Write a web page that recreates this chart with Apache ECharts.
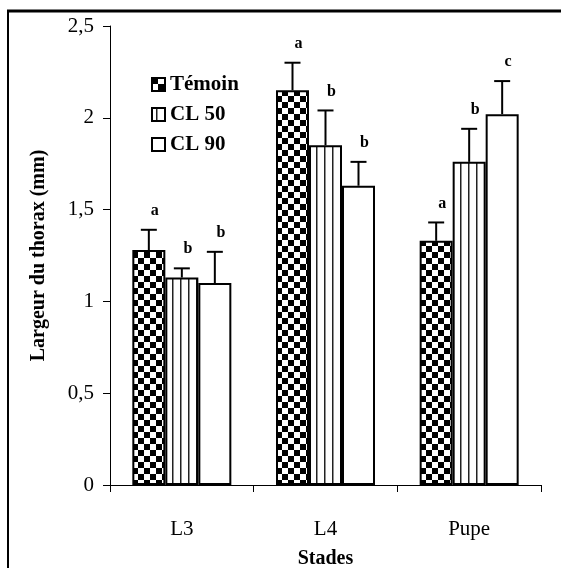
<!DOCTYPE html>
<html><head><meta charset="utf-8">
<script src="https://cdn.jsdelivr.net/npm/echarts@6/dist/echarts.min.js"></script>
<style>html,body{margin:0;padding:0;background:#fff}#c{width:561px;height:568px}</style>
</head><body><div id="c"></div>
<script>
// ---- data ----
const categories = ['L3', 'L4', 'Pupe'];
const seriesNames = ['Témoin', 'CL 50', 'CL 90'];
const temoin = [1.28, 2.15, 1.33];
const cl50 = [1.13, 1.85, 1.76];
const cl90 = [1.10, 1.63, 2.02];
const temoinErr = [0.11, 0.15, 0.10];
const cl50Err = [0.05, 0.19, 0.18];
const cl90Err = [0.17, 0.13, 0.18];
const temoinLetters = ['a', 'a', 'a'];
const cl50Letters = ['b', 'b', 'b'];
const cl90Letters = ['b', 'b', 'c'];
const yMin = 0, yMax = 2.5, yStep = 0.5;
const xTitle = 'Stades';
const yTitle = 'Largeur du thorax (mm)';

// ---- styling ----
const FONT = '"Liberation Serif", "Times New Roman", serif';
const BAR_W = 33;

function checker(s) {
  const c = document.createElement('canvas');
  c.width = c.height = 2 * s;
  const g = c.getContext('2d');
  g.fillStyle = '#fff'; g.fillRect(0, 0, 2 * s, 2 * s);
  g.fillStyle = '#000'; g.fillRect(0, 0, s, s); g.fillRect(s, s, s, s);
  return c;
}
function stripes(p) {
  const c = document.createElement('canvas');
  c.width = p; c.height = 4;
  const g = c.getContext('2d');
  g.fillStyle = '#fff'; g.fillRect(0, 0, p, 4);
  g.fillStyle = '#222'; g.fillRect(Math.floor(p / 2), 0, 1.5, 4);
  return c;
}
const fills = [
  { image: checker(6), repeat: 'repeat' },
  { image: stripes(8), repeat: 'repeat' },
  '#fff'
];
const values = [temoin, cl50, cl90];
const errs = [temoinErr, cl50Err, cl90Err];
const letters = [temoinLetters, cl50Letters, cl90Letters];

const series = [];
values.forEach((vals, idx) => {
  series.push({
    name: seriesNames[idx], type: 'bar', data: vals,
    barWidth: BAR_W, barGap: '0%',
    itemStyle: { color: fills[idx], borderColor: '#000', borderWidth: 2 }
  });
});
values.forEach((vals, idx) => {
  series.push({
    name: 'err' + idx, type: 'custom', silent: true, z: 10,
    data: vals.map((v, i) => [i, v, +(v + errs[idx][i]).toFixed(3)]),
    encode: { x: 0, y: [1, 2] },
    renderItem: (params, api) => {
      const base = api.coord([api.value(0), api.value(1)]);
      const top = api.coord([api.value(0), api.value(2)]);
      const x = base[0] + (idx - 1) * BAR_W;
      return {
        type: 'group', children: [
          { type: 'line', shape: { x1: x, y1: base[1], x2: x, y2: top[1] }, style: { stroke: '#000', lineWidth: 2 } },
          { type: 'line', shape: { x1: x - 8, y1: top[1], x2: x + 8, y2: top[1] }, style: { stroke: '#000', lineWidth: 2 } },
          { type: 'text', x: x + 6, y: top[1] - 19,
            style: { text: letters[idx][params.dataIndex], font: 'bold 16px ' + FONT,
                     textAlign: 'center', textVerticalAlign: 'middle', fill: '#000' } }
        ]
      };
    }
  });
});

const chart = echarts.init(document.getElementById('c'), null, { renderer: 'canvas' });
chart.setOption({
  animation: false,
  backgroundColor: '#fff',
  grid: { left: 110, right: 20, top: 26, bottom: 83, containLabel: false, outerBoundsMode: 'none' },
  legend: {
    data: seriesNames.map(n => ({ name: n, icon: 'rect' })),
    orient: 'vertical', left: 146, top: 69,
    itemWidth: 13, itemHeight: 13, itemGap: 9,
    textStyle: { fontFamily: FONT, fontWeight: 'bold', fontSize: 21, color: '#000' },
    selectedMode: false
  },
  xAxis: {
    type: 'category', data: categories,
    axisLine: { lineStyle: { color: '#000', width: 1 } },
    axisTick: { show: true, length: 7, lineStyle: { color: '#000' } },
    axisLabel: { fontFamily: FONT, fontSize: 21, color: '#000', margin: 34 },
    name: xTitle, nameLocation: 'middle', nameGap: 64,
    nameTextStyle: { fontFamily: FONT, fontWeight: 'bold', fontSize: 20, color: '#000' }
  },
  yAxis: {
    type: 'value', min: yMin, max: yMax, interval: yStep,
    axisLine: { show: true, lineStyle: { color: '#000', width: 1 } },
    axisTick: { show: true, length: 7, lineStyle: { color: '#000' } },
    splitLine: { show: false },
    axisLabel: { fontFamily: FONT, fontSize: 21, color: '#000', margin: 16,
                 formatter: v => String(v).replace('.', ',') },
    name: yTitle, nameLocation: 'middle', nameGap: 61, nameRotate: 90,
    nameTextStyle: { fontFamily: FONT, fontWeight: 'bold', fontSize: 20, color: '#000' }
  },
  graphic: [
    { type: 'line', shape: { x1: 7, y1: 11, x2: 561, y2: 11 }, style: { stroke: '#000', lineWidth: 3 } },
    { type: 'line', shape: { x1: 8, y1: 10, x2: 8, y2: 568 }, style: { stroke: '#000', lineWidth: 2 } }
  ],
  series: series
});
</script>
</body></html>
